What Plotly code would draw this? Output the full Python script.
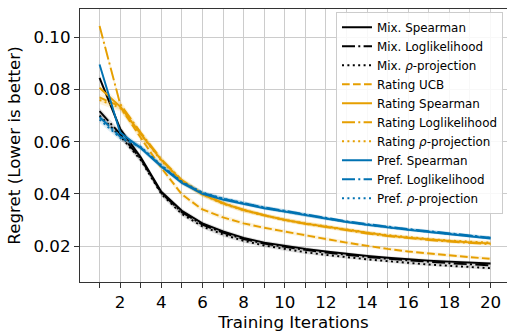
import plotly.graph_objects as go

iterations = list(range(1, 21))
tick_labels = ["" if i % 2 else str(i) for i in iterations]

mix_spearman = [0.0845, 0.0650, 0.0540, 0.0408, 0.0335, 0.0287, 0.0256, 0.0231, 0.0213, 0.0200,
                0.0189, 0.0179, 0.0170, 0.0162, 0.0155, 0.0149, 0.0144, 0.0140, 0.0136, 0.0133]
mix_loglik = [0.0717, 0.0630, 0.0535, 0.0404, 0.0330, 0.0282, 0.0251, 0.0227, 0.0209, 0.0196,
              0.0185, 0.0175, 0.0166, 0.0158, 0.0151, 0.0145, 0.0139, 0.0134, 0.0130, 0.0126]
mix_rho = [0.0700, 0.0622, 0.0530, 0.0400, 0.0323, 0.0275, 0.0244, 0.0220, 0.0202, 0.0188,
           0.0176, 0.0166, 0.0157, 0.0149, 0.0142, 0.0135, 0.0129, 0.0124, 0.0119, 0.0115]
rating_ucb = [0.0770, 0.0735, 0.0615, 0.0500, 0.0398, 0.0340, 0.0310, 0.0287, 0.0270, 0.0255,
              0.0240, 0.0227, 0.0213, 0.0200, 0.0189, 0.0179, 0.0171, 0.0164, 0.0157, 0.0151]
rating_spearman = [0.0807, 0.0735, 0.0630, 0.0530, 0.0450, 0.0398, 0.0364, 0.0338, 0.0318, 0.0300,
                   0.0286, 0.0274, 0.0262, 0.0250, 0.0240, 0.0232, 0.0225, 0.0219, 0.0214, 0.0210]
rating_loglik = [0.1044, 0.0745, 0.0635, 0.0533, 0.0453, 0.0400, 0.0365, 0.0339, 0.0318, 0.0300,
                 0.0285, 0.0272, 0.0260, 0.0248, 0.0238, 0.0230, 0.0223, 0.0217, 0.0211, 0.0207]
rating_rho = [0.0760, 0.0730, 0.0628, 0.0527, 0.0448, 0.0397, 0.0362, 0.0337, 0.0317, 0.0300,
              0.0287, 0.0275, 0.0263, 0.0252, 0.0242, 0.0234, 0.0227, 0.0221, 0.0216, 0.0213]
pref_spearman = [0.0896, 0.0635, 0.0576, 0.0505, 0.0442, 0.0400, 0.0378, 0.0361, 0.0345, 0.0332,
                 0.0318, 0.0304, 0.0292, 0.0281, 0.0271, 0.0262, 0.0254, 0.0246, 0.0238, 0.0229]
pref_loglik = [0.0695, 0.0620, 0.0578, 0.0507, 0.0445, 0.0403, 0.0381, 0.0364, 0.0348, 0.0335,
               0.0321, 0.0307, 0.0295, 0.0284, 0.0274, 0.0265, 0.0257, 0.0249, 0.0240, 0.0232]
pref_rho = [0.0685, 0.0615, 0.0580, 0.0510, 0.0447, 0.0405, 0.0382, 0.0364, 0.0347, 0.0333,
            0.0319, 0.0305, 0.0293, 0.0282, 0.0272, 0.0263, 0.0255, 0.0247, 0.0239, 0.0231]

# confidence half-widths per group
mix_band = [0.0012, 0.0012, 0.0011, 0.0010, 0.0009, 0.0008, 0.0008, 0.0007, 0.0007, 0.0007,
            0.0007, 0.0006, 0.0006, 0.0006, 0.0006, 0.0006, 0.0006, 0.0006, 0.0006, 0.0006]
rating_band = [0.0015, 0.0014, 0.0013, 0.0012, 0.0011, 0.0010, 0.0009, 0.0009, 0.0008, 0.0008,
               0.0008, 0.0008, 0.0007, 0.0007, 0.0007, 0.0007, 0.0007, 0.0007, 0.0007, 0.0007]
pref_band = [0.0012, 0.0011, 0.0010, 0.0010, 0.0009, 0.0008, 0.0008, 0.0007, 0.0007, 0.0007,
             0.0007, 0.0006, 0.0006, 0.0006, 0.0006, 0.0006, 0.0006, 0.0006, 0.0006, 0.0006]

BLACK = "#000000"
ORANGE = "#E69F00"
BLUE = "#0072B2"

SOLID = "solid"
DASHDOT = "13px,3.3px,2px,3.3px"
DOT = "2px,3.4px"
DASH = "7.7px,3.3px"

series = [
    ("Mix. Spearman", mix_spearman, BLACK, SOLID, mix_band, "rgba(0,0,0,0.13)"),
    ("Mix. Loglikelihood", mix_loglik, BLACK, DASHDOT, mix_band, "rgba(0,0,0,0.13)"),
    ("Mix. <i>ρ</i>-projection", mix_rho, BLACK, DOT, mix_band, "rgba(0,0,0,0.13)"),
    ("Rating UCB", rating_ucb, ORANGE, DASH, rating_band, "rgba(230,159,0,0.13)"),
    ("Rating Spearman", rating_spearman, ORANGE, SOLID, rating_band, "rgba(230,159,0,0.13)"),
    ("Rating Loglikelihood", rating_loglik, ORANGE, DASHDOT, rating_band, "rgba(230,159,0,0.13)"),
    ("Rating <i>ρ</i>-projection", rating_rho, ORANGE, DOT, rating_band, "rgba(230,159,0,0.13)"),
    ("Pref. Spearman", pref_spearman, BLUE, SOLID, pref_band, "rgba(0,114,178,0.13)"),
    ("Pref. Loglikelihood", pref_loglik, BLUE, DASHDOT, pref_band, "rgba(0,114,178,0.13)"),
    ("Pref. <i>ρ</i>-projection", pref_rho, BLUE, DOT, pref_band, "rgba(0,114,178,0.13)"),
]

fig = go.Figure()

for name, vals, color, dash, band, fill in series:
    upper = [v + b for v, b in zip(vals, band)]
    lower = [v - b for v, b in zip(vals, band)]
    fig.add_trace(go.Scatter(
        x=iterations + iterations[::-1], y=upper + lower[::-1],
        fill="toself", fillcolor=fill, line=dict(width=0),
        hoverinfo="skip", showlegend=False, mode="lines"))

for name, vals, color, dash, band, fill in series:
    fig.add_trace(go.Scatter(
        x=iterations, y=vals, name=name, mode="lines",
        line=dict(color=color, dash=dash, width=1.9)))

fig.update_layout(
    width=507, height=333,
    margin=dict(l=80, r=0, t=9, b=51, autoexpand=False),
    paper_bgcolor="white", plot_bgcolor="white",
    font=dict(family="DejaVu Sans", size=16.7, color="black"),
    showlegend=True,
    legend=dict(
        x=0.9906, y=0.99, xanchor="right", yanchor="top",
        bgcolor="rgba(255,255,255,0.85)", bordercolor="#cccccc", borderwidth=1,
        font=dict(size=11.9, family="DejaVu Sans"),
        tracegroupgap=0, itemwidth=30,
    ),
)

fig.update_xaxes(
    range=[0.05, 20.8],
    tickmode="array", tickvals=iterations, ticktext=tick_labels,
    showgrid=True, gridcolor="#cccccc", gridwidth=1,
    showline=True, linecolor="#333333", linewidth=1.2, mirror=True,
    ticks="outside", ticklen=5, tickcolor="#333333",
    zeroline=False, automargin=False,
    title=dict(text="Training Iterations", font=dict(size=16.7), standoff=2),
    tickfont=dict(size=16.7),
)
fig.update_yaxes(
    range=[0.0062, 0.1109],
    tickmode="array", tickvals=[0.02, 0.04, 0.06, 0.08, 0.10],
    ticktext=["0.02", "0.04", "0.06", "0.08", "0.10"],
    showgrid=True, gridcolor="#cccccc", gridwidth=1,
    showline=True, linecolor="#333333", linewidth=1.2,
    ticks="outside", ticklen=5, tickcolor="#333333",
    zeroline=False, automargin=False,
    title=dict(text="Regret (Lower is better)", font=dict(size=16.7), standoff=8),
    tickfont=dict(size=16.7),
)

fig.write_html(
    "out.html",
    config={"displayModeBar": False},
    post_script="document.body.style.margin='0';document.body.style.overflow='hidden';",
)
